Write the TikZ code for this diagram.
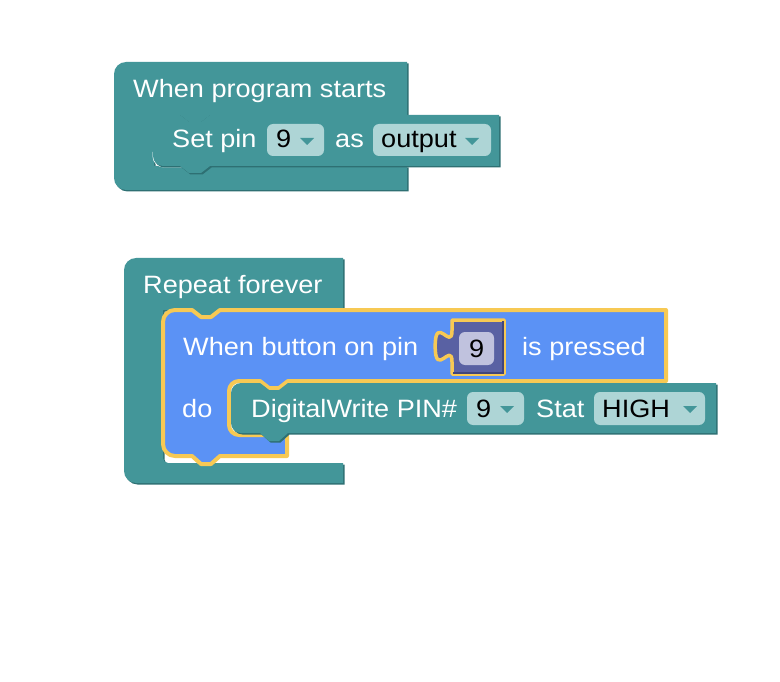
\documentclass[tikz,border=0pt]{standalone}
\usepackage{fontspec}
\setmainfont{Liberation Sans}[FakeStretch=1.08]
\definecolor{tealc}{RGB}{67,150,153}
\definecolor{tealdk}{RGB}{46,112,115}
\definecolor{fieldc}{RGB}{174,213,214}
\definecolor{bluec}{RGB}{91,146,245}
\definecolor{yellowc}{RGB}{247,201,84}
\definecolor{purplec}{RGB}{89,97,163}
\definecolor{purpledk}{RGB}{64,70,125}
\definecolor{pfieldc}{RGB}{192,194,222}
\newcommand\blkfont{\fontsize{25.1}{30}\selectfont}
% block outlines, in pixel units with y pointing down
\def\startsblock{(114,74) arc[start angle=180,end angle=270,radius=12] -- (407,62) -- (407,115) -- (210,115) -- (201,122) -- (189,122) -- (180,115) -- (168,115) -- (168,128) -- (154,128) -- (154,166) -- (407,166) -- (407,190) -- (126,190) arc[start angle=90,end angle=180,radius=12] -- cycle}
\def\setpinblock{(153,125) arc[start angle=180,end angle=270,radius=10] -- (180,115) -- (189,122) -- (201,122) -- (210,115) -- (499,115) -- (499,166) -- (210,166) -- (201,173) -- (189,173) -- (180,166) -- (163,166) arc[start angle=90,end angle=180,radius=10] -- cycle}
\def\foreverblock{(124,270) arc[start angle=180,end angle=270,radius=12] -- (343,258) -- (343,310) -- (220,310) -- (211,317) -- (201,317) -- (192,310) -- (163,310) -- (163,458) arc[start angle=180,end angle=90,radius=5] -- (343,463) -- (343,483) -- (136,483) arc[start angle=90,end angle=180,radius=12] -- cycle}
\def\buttonblock{(163,322) arc[start angle=180,end angle=270,radius=12] -- (192,310) -- (201,317) -- (211,317) -- (220,310) -- (666,310) -- (666,381) -- (288,381) -- (279,388) -- (269,388) -- (260,381) -- (239,381) arc[start angle=270,end angle=180,radius=10] -- (229,425) arc[start angle=180,end angle=90,radius=10] -- (287,435) -- (287,456) -- (220,456) -- (211,464) -- (201,464) -- (192,456) -- (175,456) arc[start angle=90,end angle=180,radius=12] -- cycle}
\def\writeblock{(231,393) arc[start angle=180,end angle=270,radius=10] -- (260,383) -- (269,390) -- (279,390) -- (288,383) -- (716,383) -- (716,433) -- (288,433) -- (279,441) -- (269,441) -- (260,433) -- (241,433) arc[start angle=90,end angle=180,radius=10] -- cycle}
\def\pinblock{(452,320) -- (452,330.5) .. controls (452,351.5) and (435.2,313.7) .. (435.2,346.25) .. controls (435.2,378.8) and (452,341) .. (452,362) -- (452,374) -- (504,374) -- (504,320) -- cycle}
\begin{document}
\begin{tikzpicture}[x=1pt,y=-1pt,
  lbl/.style={font=\blkfont, text=white, inner sep=0pt, anchor=base west},
  fieldtxt/.style={lbl, text=black},
  field/.style={fill=fieldc, rounded corners=6pt},
  shade/.style={fill=tealdk, shift={(1.5,1.5)}},
  ddtri/.style={fill=tealc}]
\useasboundingbox[fill=white] (0,0) rectangle (780,682);

% "When program starts" block with its statement
\fill[shade] \startsblock;
\fill[tealc] \startsblock;
\draw[white, line width=2pt] (153.5,152) -- (153.5,156) arc[start angle=180,end angle=90,radius=10.5] -- (188,166.5);
\fill[shade] \setpinblock;
\fill[tealc] \setpinblock;
\node[lbl] (starts) at (133,98) {When program starts};
\node[lbl] (setpin) at (172,148) {Set pin};
\fill[field] (267,124) rectangle (324,156);
\node[fieldtxt] (pinval) at (276,148) {9};
\fill[ddtri] (300,138) -- (314,138) -- (307,145) -- cycle;
\node[lbl] (as) at (335,148) {as};
\fill[field] (373,124) rectangle (491,156);
\node[fieldtxt] (mode) at (381,148) {output};
\fill[ddtri] (465,138) -- (479,138) -- (472,145) -- cycle;

% "Repeat forever" loop
\fill[shade] \foreverblock;
\fill[tealc] \foreverblock;
\node[lbl] (forever) at (143,294) {Repeat forever};

% selected button event block
\filldraw[fill=bluec, draw=yellowc, line width=4pt, line join=round] \buttonblock;
\node[lbl] (button) at (183,355) {When button on pin};
\node[lbl] (pressed) at (522,355) {is pressed};
\node[lbl] (do) at (182,417) {do};

% pin number value block
\filldraw[fill=purplec, draw=yellowc, line width=3.5pt, line join=round] \pinblock;
\draw[purpledk, line width=1.5pt] (503,321) -- (503,373) -- (453,373);
\fill[pfieldc, rounded corners=6pt] (459,332) rectangle (494,365);
\node[fieldtxt] (btnpin) at (469,357) {9};

% DigitalWrite statement
\fill[shade] \writeblock;
\fill[tealc] \writeblock;
\node[lbl] (write) at (251,417) {DigitalWrite PIN\#};
\fill[field] (467,392) rectangle (524,425);
\node[fieldtxt] (wpin) at (476,417) {9};
\fill[ddtri] (500,406) -- (514,406) -- (507,413) -- cycle;
\node[lbl] (stat) at (536,417) {Stat};
\fill[field] (594,392) rectangle (705,425);
\node[fieldtxt] (level) at (602,417) {HIGH};
\fill[ddtri] (683,406) -- (697,406) -- (690,413) -- cycle;
\end{tikzpicture}
\end{document}
